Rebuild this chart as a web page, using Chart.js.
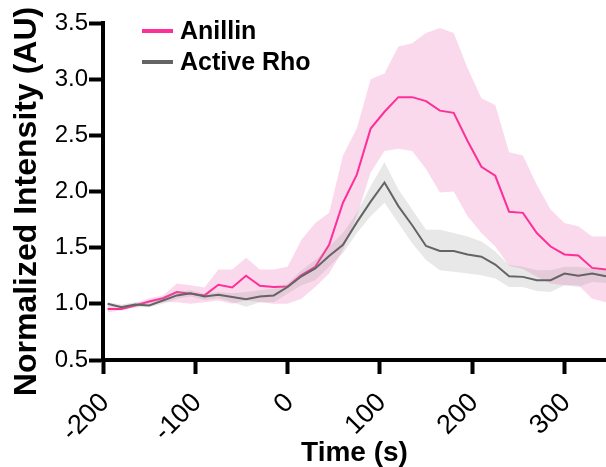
<!DOCTYPE html>
<html>
<head>
<meta charset="utf-8">
<script src="https://cdn.jsdelivr.net/npm/chart.js@4.4.1/dist/chart.umd.min.js"></script>
<style>
  html, body { margin: 0; padding: 0; background: #fff; }
  #wrap { width: 606px; height: 467px; position: relative; }
</style>
</head>
<body>
<div id="wrap"><canvas id="myChart"></canvas></div>
<script>
// time points (s)
const times = [-195, -180, -165, -150, -135, -120, -105, -90, -75, -60, -45, -30, -15, 0, 15, 30, 45, 60, 75,
    90, 105, 120, 135, 150, 165, 180, 195, 210, 225, 240, 255, 270, 285, 300, 315, 330, 345];

// Anillin mean and band
const anillin = [0.955, 0.955, 0.985, 1.02, 1.05, 1.105, 1.09, 1.075, 1.17, 1.145, 1.25, 1.16, 1.15, 1.155, 1.255, 1.33, 1.525,
    1.90, 2.15, 2.56, 2.71, 2.84, 2.84, 2.805, 2.72, 2.70, 2.45, 2.22, 2.14, 1.82, 1.81, 1.63, 1.51, 1.44, 1.43, 1.32, 1.305];
const anillinHi = [0.985, 0.985, 1.005, 1.05, 1.075, 1.18, 1.165, 1.145, 1.305, 1.305, 1.41, 1.305, 1.305, 1.33, 1.57, 1.72, 1.81,
    2.32, 2.56, 3.0, 3.05, 3.29, 3.32, 3.41, 3.455, 3.41, 3.10, 2.83, 2.77, 2.35, 2.32, 2.06, 1.84, 1.72, 1.69, 1.60, 1.60];
const anillinLo = [0.925, 0.94, 0.97, 1.0, 1.015, 1.015, 1.0, 1.015, 1.03, 1.0, 1.03, 1.015, 1.0, 1.0, 1.045, 1.15, 1.27,
    1.48, 1.78, 2.17, 2.36, 2.38, 2.36, 2.20, 1.99, 2.0, 1.78, 1.63, 1.51, 1.34, 1.31, 1.24, 1.18, 1.165, 1.165, 1.045, 1.015];

// Active Rho mean and band
const rho = [1.0, 0.97, 0.995, 0.985, 1.03, 1.075, 1.095, 1.065, 1.08, 1.06, 1.04, 1.065, 1.075, 1.15, 1.245, 1.315, 1.425,
    1.525, 1.725, 1.91, 2.08, 1.87, 1.70, 1.515, 1.47, 1.47, 1.44, 1.42, 1.35, 1.245, 1.24, 1.21, 1.21, 1.27, 1.25, 1.27, 1.245];
const rhoHi = [1.015, 0.994, 1.015, 1.015, 1.06, 1.105, 1.12, 1.09, 1.105, 1.095, 1.105, 1.12, 1.135, 1.18, 1.30, 1.39, 1.51,
    1.63, 1.81, 2.05, 2.26, 2.02, 1.84, 1.66, 1.66, 1.63, 1.60, 1.555, 1.465, 1.345, 1.33, 1.30, 1.30, 1.33, 1.33, 1.315, 1.30];
const rhoLo = [0.985, 0.955, 0.97, 0.97, 1.0, 1.045, 1.065, 1.035, 1.05, 1.015, 0.975, 1.015, 1.015, 1.09, 1.165, 1.21, 1.33,
    1.45, 1.63, 1.78, 1.90, 1.72, 1.54, 1.39, 1.30, 1.285, 1.27, 1.255, 1.225, 1.15, 1.15, 1.115, 1.105, 1.165, 1.15, 1.195, 1.185];

const seriesNames = ["Anillin", "Active Rho"];
const xTicks = [-200, -100, 0, 100, 200, 300];
const yTicks = [0.5, 1.0, 1.5, 2.0, 2.5, 3.0, 3.5];
const yTitle = "Normalized Intensity (AU)";

const PINK = "#ff2f98";
const GREY = "#646464";
const FONT = "'Liberation Sans', Arial, sans-serif";

function pts(vals) {
    return times.map((t, i) => ({ x: t, y: vals[i] }));
}

Chart.defaults.font.family = FONT;
Chart.defaults.color = "#000";

// legend inside the plot area + y title (sits a bit below the axis centre in the original)
const extrasPlugin = {
    id: "extras",
    afterDatasetsDraw(chart) {
        const ctx = chart.ctx;
        const a = chart.chartArea;
        const rows = [
            { label: seriesNames[0], color: PINK },
            { label: seriesNames[1], color: GREY }
        ];
        ctx.save();
        ctx.font = "bold 25px " + FONT;
        ctx.textBaseline = "middle";
        rows.forEach((r, i) => {
            const y = a.top + 8 + i * 31;
            ctx.strokeStyle = r.color;
            ctx.lineWidth = 4;
            ctx.beginPath();
            ctx.moveTo(a.left + 39, y);
            ctx.lineTo(a.left + 70, y);
            ctx.stroke();
            ctx.fillStyle = "#000";
            ctx.fillText(r.label, a.left + 77, y + 1);
        });
        ctx.restore();
    },
    afterDraw(chart) {
        const ctx = chart.ctx;
        const a = chart.chartArea;
        ctx.save();
        ctx.translate(27, (a.top + a.bottom) / 2 + 10);
        ctx.rotate(-Math.PI / 2);
        ctx.font = "bold 32px " + FONT;
        ctx.fillStyle = "#000";
        ctx.textAlign = "center";
        ctx.textBaseline = "middle";
        ctx.fillText(yTitle, 0, 0);
        ctx.restore();
    }
};

const line = (data, color, extra) => Object.assign({
    data: pts(data),
    borderColor: color,
    borderWidth: 2,
    pointRadius: 0,
    tension: 0,
    fill: false
}, extra || {});

new Chart(document.getElementById("myChart"), {
    type: "line",
    data: {
        datasets: [
            line(rho, GREY, { label: seriesNames[1] }),
            line(rhoHi, "rgba(0,0,0,0)", { borderWidth: 0, fill: "+1", backgroundColor: "rgba(150,150,150,0.22)" }),
            line(rhoLo, "rgba(0,0,0,0)", { borderWidth: 0 }),
            line(anillin, PINK, { label: seriesNames[0] }),
            line(anillinHi, "rgba(0,0,0,0)", { borderWidth: 0, fill: "+1", backgroundColor: "rgba(240,120,190,0.28)" }),
            line(anillinLo, "rgba(0,0,0,0)", { borderWidth: 0 })
        ]
    },
    plugins: [extrasPlugin],
    options: {
        responsive: true,
        maintainAspectRatio: false,
        animation: false,
        layout: { padding: { top: 23, right: 0, left: 0, bottom: 0 } },
        plugins: {
            legend: { display: false },
            tooltip: { enabled: false }
        },
        scales: {
            x: {
                type: "linear",
                min: -200,
                max: 345,
                afterFit: (s) => { s.height = 107; },
                afterBuildTicks: (s) => { s.ticks = xTicks.map(v => ({ value: v })); },
                ticks: {
                    minRotation: 45,
                    maxRotation: 45,
                    padding: 13,
                    labelOffset: 2,
                    color: "#000",
                    font: { size: 27 }
                },
                grid: { drawOnChartArea: false, drawTicks: true, tickLength: 14, tickWidth: 4, tickColor: "#000" },
                border: { color: "#000", width: 4 },
                title: { display: true, text: "Time (s)", color: "#000", font: { size: 28, weight: "bold" }, padding: { top: 0, bottom: -3 } }
            },
            y: {
                min: 0.5,
                max: 3.5,
                afterFit: (s) => { s.width = 103; },
                afterBuildTicks: (s) => { s.ticks = yTicks.map(v => ({ value: v })); },
                ticks: {
                    padding: 1,
                    color: "#000",
                    font: { size: 24 },
                    callback: (v) => Number(v).toFixed(1)
                },
                grid: { drawOnChartArea: false, drawTicks: true, tickLength: 14, tickWidth: 4, tickColor: "#000" },
                border: { color: "#000", width: 4 },
                title: { display: false }
            }
        }
    }
});
</script>
</body>
</html>
